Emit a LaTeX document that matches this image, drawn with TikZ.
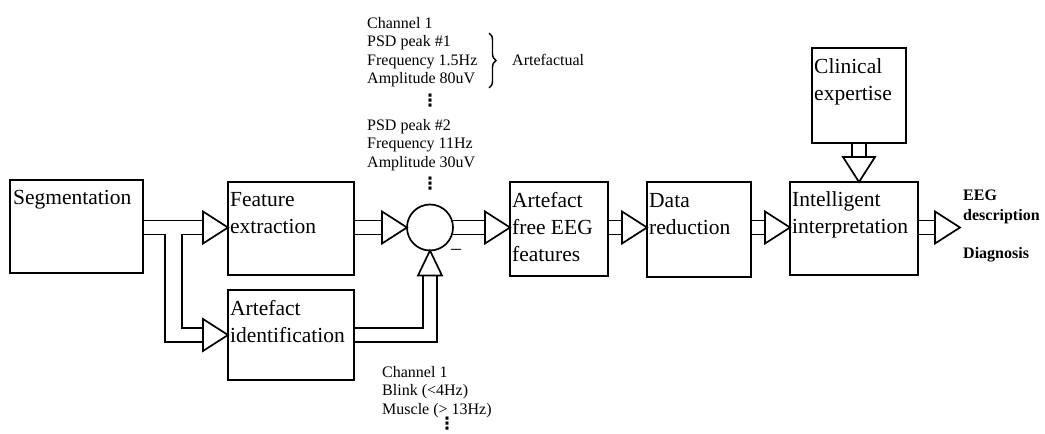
\documentclass[tikz,border=0pt]{standalone}
\usepackage{fontspec}
\setmainfont{Liberation Serif}
\newfontfamily\dejavu{DejaVu Sans}
\usetikzlibrary{calc,decorations.pathreplacing}
\newcommand\bxtxt[1]{\begin{tabular}[t]{@{}l@{}}#1\end{tabular}}
\newcommand\hpipe[2]{%
  \draw[pipe] ($(#1)+(0,-7)$) -- ($(#2)+(-25,-7)$) ($(#1)+(0,7)$) -- ($(#2)+(-25,7)$);
  \draw[tri] (#2) -- ++(-25,-16) -- ++(0,32) -- cycle;}
\begin{document}
\begin{tikzpicture}[x=1pt,y=-1pt,
  blk/.style={draw, line width=1.9pt, inner sep=0pt, outer sep=0pt, anchor=north west},
  lbl/.style={anchor=base west, inner sep=0pt, font=\fontsize{21.5}{27}\selectfont},
  ann/.style={anchor=base west, inner sep=0pt, font=\fontsize{16}{18.5}\selectfont},
  outt/.style={anchor=base west, inner sep=0pt, font=\fontsize{16}{20}\selectfont\bfseries},
  vdts/.style={inner sep=0pt, font=\dejavu\bfseries\fontsize{17}{17}\selectfont},
  pipe/.style={line width=1.7pt},
  tri/.style={draw, line width=1.7pt, fill=white, line join=miter},
  brc/.style={decorate, decoration={brace, amplitude=7pt}, line width=1.4pt}]
\useasboundingbox (0,0) rectangle (1045,434);
% blocks
\node[blk, minimum width=133pt, minimum height=93pt] (seg) at (10,180) {};
\node[blk, minimum width=126pt, minimum height=93pt] (feat) at (228,182) {};
\node[blk, minimum width=126pt, minimum height=90pt] (art) at (228,290) {};
\node[draw, circle, minimum size=46pt, inner sep=0pt, outer sep=0pt, line width=1.7pt] (sum) at (430,227.5) {};
\node[blk, minimum width=98pt, minimum height=94pt] (free) at (510,182) {};
\node[blk, minimum width=104pt, minimum height=95pt] (red) at (647,182) {};
\node[blk, minimum width=128pt, minimum height=93pt] (intel) at (790,182) {};
\node[blk, minimum width=94pt, minimum height=95pt] (clin) at (812,48) {};
% block texts
\node[lbl] (segt) at ($(seg.north west)+(3,24)$) {\bxtxt{Segmentation}};
\node[lbl] (featt) at ($(feat.north west)+(2,24)$) {\bxtxt{Feature\\extraction}};
\node[lbl] (artt) at ($(art.north west)+(2,25)$) {\bxtxt{Artefact\\identification}};
\node[lbl] (freet) at ($(free.north west)+(2,25)$) {\bxtxt{Artefact\\free EEG\\features}};
\node[lbl] (redt) at ($(red.north west)+(2,25)$) {\bxtxt{Data\\reduction}};
\node[lbl] (intelt) at ($(intel.north west)+(2,24)$) {\bxtxt{Intelligent\\interpretation}};
\node[lbl] (clint) at ($(clin.north west)+(2,25)$) {\bxtxt{Clinical\\expertise}};
% segmentation -> feature extraction / artefact identification
\draw[pipe] ($(seg.east|-sum)+(0,-7)$) -- ($(feat.west|-sum)+(-25,-7)$);
\draw[tri] (feat.west|-sum) -- ++(-25,-16) -- ++(0,32) -- cycle;
\draw[pipe] ($(seg.east|-sum)+(0,7)$) -| ($(art.west)+(-63,7)$) -- ($(art.west)+(-25,7)$);
\draw[pipe] ($(feat.west|-sum)+(-25,7)$) -| ($(art.west)+(-46,-7)$) -- ($(art.west)+(-25,-7)$);
\draw[tri] (art.west) -- ++(-25,-16) -- ++(0,32) -- cycle;
% feature extraction -> sum
\hpipe{feat.east|-sum}{sum.west}
% artefact identification -> sum
\draw[pipe] ($(art.east)+(0,-7)$) -| ($(sum.south)+(-7,25)$);
\draw[pipe] ($(art.east)+(0,7)$) -| ($(sum.south)+(7,25)$);
\draw[tri] (sum.south) -- ++(-12,25) -- ++(24,0) -- cycle;
\node[inner sep=0pt, font=\fontsize{20}{20}\selectfont] (minus) at (456,252) {–};
% main chain
\hpipe{sum.east}{free.west|-sum}
\hpipe{free.east|-sum}{red.west|-sum}
\hpipe{red.east|-sum}{intel.west|-sum}
\coordinate (out) at (960,227.5);
\hpipe{intel.east|-sum}{out}
% clinical expertise -> intelligent interpretation
\coordinate (capx) at (clin.south|-intel.north);
\draw[pipe] ($(clin.south)+(-7,0)$) -- ($(capx)+(-7,-25)$) ($(clin.south)+(7,0)$) -- ($(capx)+(7,-25)$);
\draw[tri] (capx) -- ++(-16,-25) -- ++(32,0) -- cycle;
% annotations
\node[ann] (ann1) at (367,28) {\bxtxt{Channel 1\\PSD peak \#1\\Frequency 1.5Hz\\Amplitude 80uV}};
\node[vdts] (d1) at (430,101) {⋮};
\node[ann] (ann2) at (367,130) {\bxtxt{PSD peak \#2\\Frequency 11Hz\\Amplitude 30uV}};
\node[vdts] (d2) at (430,184) {⋮};
\draw[brc] (489,33) -- (489,88);
\node[ann] (artl) at (512,65) {Artefactual};
\node[ann] (ann3) at (382,377) {\bxtxt{Channel 1\\Blink (<4Hz)\\Muscle (> 13Hz)}};
\node[vdts] (d3) at (447,424) {⋮};
\node[outt] (o1) at (963,200) {\bxtxt{EEG\\description}};
\node[outt] (o2) at (963,258) {Diagnosis};
\end{tikzpicture}
\end{document}
